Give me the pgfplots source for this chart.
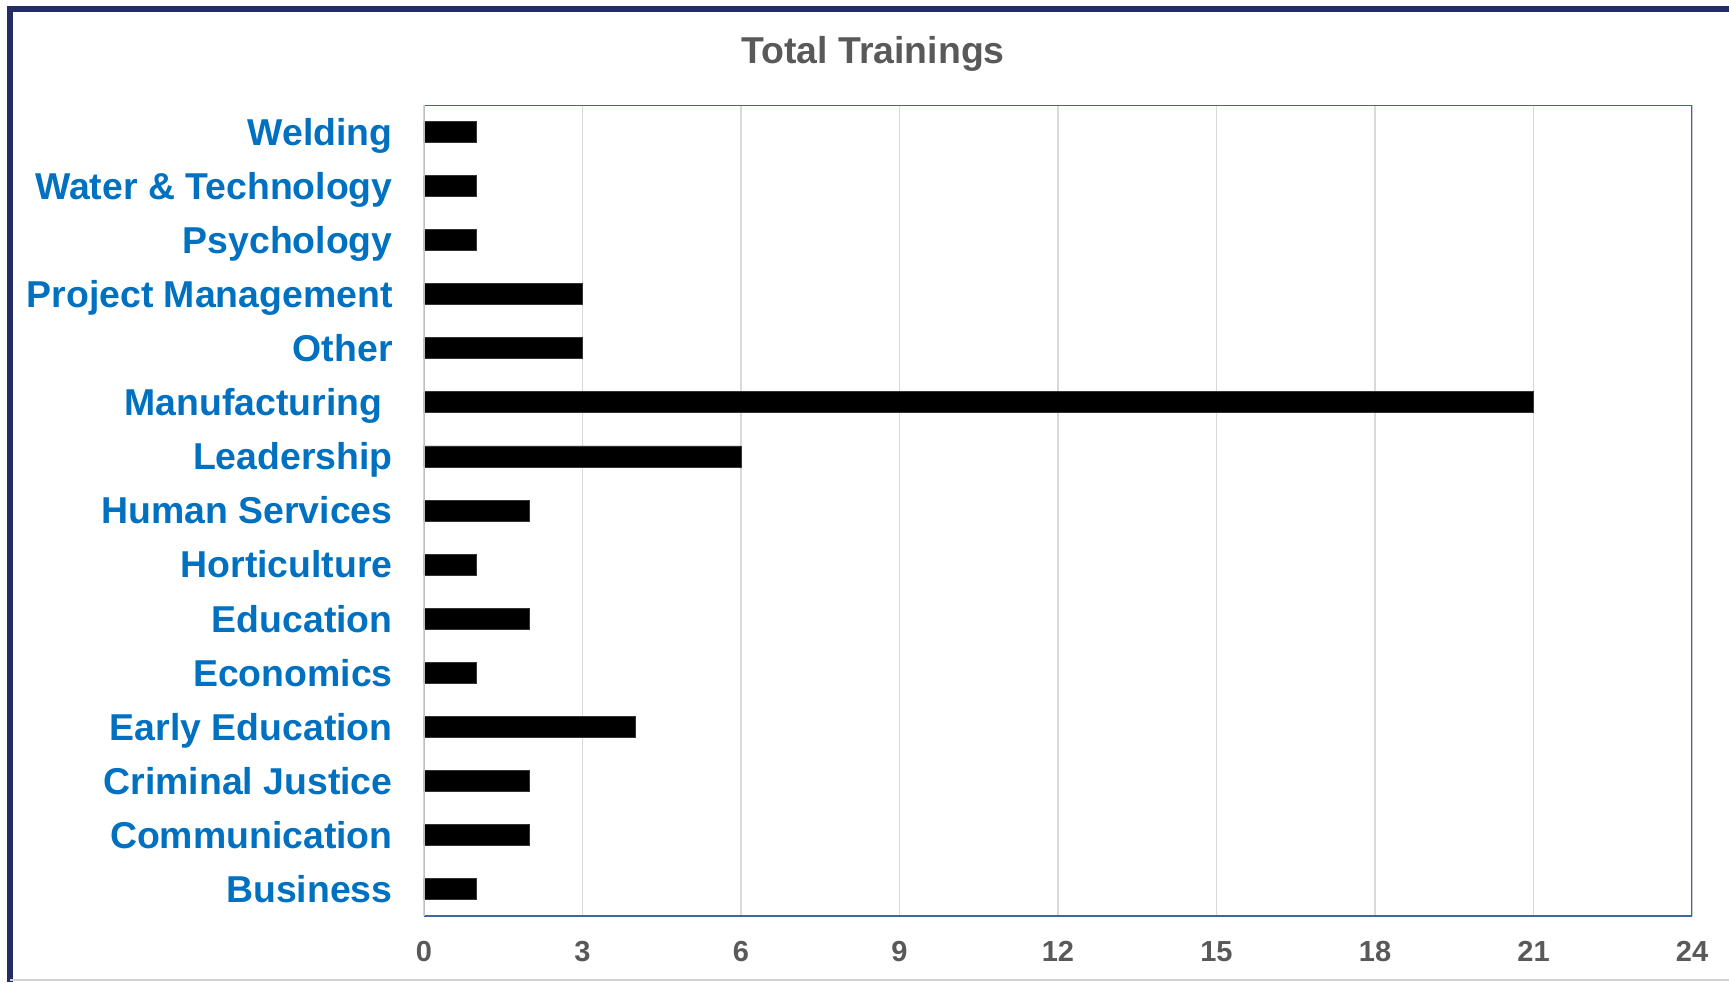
\documentclass[border=0pt]{standalone}
\usepackage{pgfplots}
\pgfplotsset{compat=1.18}
\usepackage{pgfplotstable}
\usepackage{fontspec}
\setmainfont{Liberation Sans}

\definecolor{catblue}{HTML}{0070C0}
\definecolor{txtgray}{HTML}{595959}
\definecolor{gridgray}{HTML}{D9D9D9}
\definecolor{navy}{HTML}{232D64}
\definecolor{plotblue}{HTML}{41669D}

% y = category position (1 = Business at bottom)
\pgfplotstableread{
val y
1  1
2  2
2  3
4  4
1  5
2  6
1  7
2  8
6  9
21 10
3  11
3  12
1  13
1  14
1  15
}\trainings

\begin{document}
\begin{tikzpicture}
\begin{axis}[
    at={(0,0)}, anchor=south west,
    scale only axis, width=634pt, height=405.5pt,
    xbar, bar width=10.5pt,
    xmin=0, xmax=24, ymin=0.5, ymax=15.5,
    xtick={0,3,...,24}, ytick={1,...,15},
    yticklabels={Business, Communication, Criminal Justice, Early Education,
        Economics, Education, Horticulture, Human Services, Leadership,
        Manufacturing\hspace*{0.278em}, Other, Project Management, Psychology,
        Water \& Technology, Welding},
    major tick length=0pt,
    xmajorgrids, grid style={gridgray, line width=0.75pt},
    axis line style={draw=none},
    /pgf/number format/assume math mode=true,
    xticklabel style={font=\fontsize{14.5}{16}\selectfont\bfseries, text=txtgray,
        anchor=base, inner sep=0pt, yshift=-22.7pt},
    yticklabel style={font=\fontsize{18.7}{20}\selectfont\bfseries, text=catblue,
        anchor=base east, inner sep=0pt, xshift=-15.5pt, yshift=-6.7pt},
]
\addplot[fill=black, draw=black!80, line width=0.4pt] table[x=val, y=y] {\trainings};
\draw[plotblue, line width=0.8pt] (rel axis cs:0,1) -- (rel axis cs:1,1) -- (rel axis cs:1,0) -- (rel axis cs:0,0);
\draw[black!25, line width=0.8pt] (rel axis cs:0,0) -- (rel axis cs:0,1);
\end{axis}
\node[anchor=base, font=\fontsize{18.7}{20}\selectfont\bfseries, text=txtgray] at (224.5pt,426.4pt) {Total Trainings};
% outer chart frame
\draw[navy, line width=3pt] (-206.75pt,-33pt) -- (-206.75pt,453.5pt) -- (652.5pt,453.5pt);
\draw[black!18, line width=0.6pt] (-206.75pt,-32pt) -- (652.5pt,-32pt);
\pgfresetboundingbox
\path[use as bounding box] (-212pt,-33pt) rectangle (652.5pt,458pt);
\end{tikzpicture}
\end{document}
